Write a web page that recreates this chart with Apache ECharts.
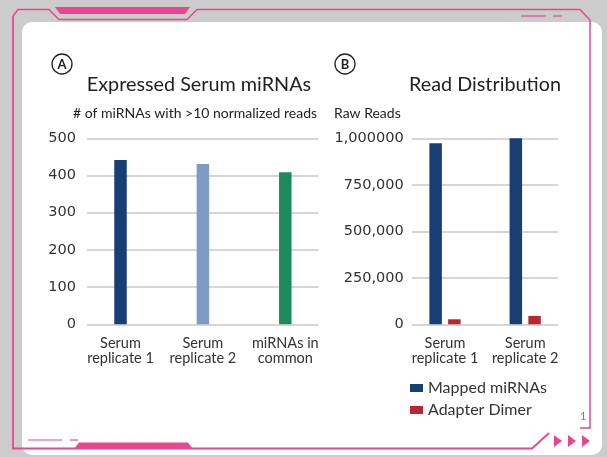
<!DOCTYPE html>
<html><head><meta charset="utf-8">
<script src="https://cdn.jsdelivr.net/npm/echarts@6/dist/echarts.min.js"></script>
<style>html,body{margin:0;padding:0;background:#cbcbcb}#c{width:607px;height:457px}</style>
</head><body><div id="c"></div>
<script>
// ---- data ----
const catsA = ['Serum\nreplicate 1', 'Serum\nreplicate 2', 'miRNAs in\ncommon'];
const valsA = [442, 431, 409];
const colorsA = ['#173f75', '#7f9bc3', '#1d8a5c'];
const catsB = ['Serum\nreplicate 1', 'Serum\nreplicate 2'];
const mapped = [973000, 1007000];
const adapter = [27000, 45000];
const seriesNamesB = ['Mapped miRNAs', 'Adapter Dimer'];
const ticksA = [0, 100, 200, 300, 400, 500];
const ticksB = [0, 250000, 500000, 750000, 1000000];
const tickLabelsB = ['0', '250,000', '500,000', '750,000', '1,000000'];

const FONT = 'Lato';
const NUMFONT = 'DejaVu Sans';
const TXT = '#333333';
const PINK = '#e8478f';
const GRID = '#c8c8c8';
const chart = echarts.init(document.getElementById('c'));

const top0 = 138.3, h0 = 186;
const option = {
  backgroundColor: '#cccccc',
  animation: false,
  textStyle: { fontFamily: FONT },
  grid: [
    { left: 87, top: top0, width: 231.5, height: h0 },
    { left: 79.3, top: top0, width: 247.2, height: h0 },
    { left: 411.7, top: top0, width: 146.3, height: h0 },
    { left: 404.9, top: top0, width: 160.4, height: h0 }
  ],
  xAxis: [
    { gridIndex: 0, type: 'value', show: false },
    { gridIndex: 1, type: 'category', data: catsA, axisLine: { show: false }, axisTick: { show: false },
      axisLabel: { color: TXT, fontSize: 14.5, lineHeight: 15, margin: 12, fontFamily: FONT, interval: 0 } },
    { gridIndex: 2, type: 'value', show: false },
    { gridIndex: 3, type: 'category', data: catsB, axisLine: { show: false }, axisTick: { show: false },
      axisLabel: { color: TXT, fontSize: 14.5, lineHeight: 15, margin: 12, fontFamily: FONT, interval: 0 } }
  ],
  yAxis: [
    { gridIndex: 0, type: 'value', min: ticksA[0], max: ticksA[ticksA.length - 1], interval: ticksA[1] - ticksA[0],
      axisLine: { show: false }, axisTick: { show: false },
      axisLabel: { color: TXT, fontSize: 14.5, margin: 11, fontFamily: NUMFONT },
      splitLine: { lineStyle: { color: GRID, width: 1.5 } } },
    { gridIndex: 1, type: 'value', min: ticksA[0], max: ticksA[ticksA.length - 1], show: false },
    { gridIndex: 2, type: 'value', min: ticksB[0], max: ticksB[ticksB.length - 1], interval: ticksB[1] - ticksB[0],
      axisLine: { show: false }, axisTick: { show: false },
      axisLabel: { color: TXT, fontSize: 14.5, margin: 8, fontFamily: NUMFONT,
        formatter: v => tickLabelsB[ticksB.indexOf(v)] },
      splitLine: { lineStyle: { color: GRID, width: 1.5 } } },
    { gridIndex: 3, type: 'value', min: ticksB[0], max: ticksB[ticksB.length - 1], show: false }
  ],
  legend: {
    data: seriesNamesB, orient: 'vertical', left: 405, top: 375,
    itemWidth: 13, itemHeight: 8, itemGap: 6, icon: 'rect',
    textStyle: { color: TXT, fontSize: 16, fontFamily: FONT, padding: [0, 0, 0, 0] }
  },
  series: [
    { type: 'bar', xAxisIndex: 1, yAxisIndex: 1, barWidth: 12.5,
      data: valsA.map((v, i) => ({ value: v, itemStyle: { color: colorsA[i] } })) },
    { name: seriesNamesB[0], type: 'bar', xAxisIndex: 3, yAxisIndex: 3, barWidth: 12.5, barGap: '50%',
      itemStyle: { color: '#173f75' }, data: mapped },
    { name: seriesNamesB[1], type: 'bar', xAxisIndex: 3, yAxisIndex: 3, barWidth: 12.5, barGap: '50%',
      itemStyle: { color: '#b8282f' }, data: adapter }
  ],
  graphic: [
    { type: 'rect', z: -10, shape: { x: 22, y: 22, width: 580, height: 433, r: 10 }, style: { fill: '#ffffff' } },
    { type: 'polyline', z: -5, shape: { points: [[13, 16], [18, 9.5], [49, 9.5], [59, 19.5], [187, 19.5], [197, 9.5], [580, 9.5], [590, 20], [590, 428], [580, 428]] },
      style: { stroke: PINK, lineWidth: 1.5, fill: null } },
    { type: 'polyline', z: -5, shape: { points: [[13, 16], [13, 448.5], [532, 448.5], [549, 433]] },
      style: { stroke: PINK, lineWidth: 1.8, fill: null } },
    { type: 'polygon', z: -5, shape: { points: [[55, 7], [190, 7], [185, 14], [60, 14]] }, style: { fill: PINK } },
    { type: 'polygon', z: -5, shape: { points: [[79, 442.5], [188, 442.5], [193, 449], [74, 449]] }, style: { fill: PINK } },
    { type: 'line', z: -5, shape: { x1: 521, y1: 16, x2: 546, y2: 16 }, style: { stroke: PINK, lineWidth: 1.2 } },
    { type: 'line', z: -5, shape: { x1: 553, y1: 16, x2: 562, y2: 16 }, style: { stroke: PINK, lineWidth: 1.2 } },
    { type: 'line', z: -5, shape: { x1: 28, y1: 440, x2: 62, y2: 440 }, style: { stroke: PINK, lineWidth: 1.2 } },
    { type: 'line', z: -5, shape: { x1: 70, y1: 440, x2: 78, y2: 440 }, style: { stroke: PINK, lineWidth: 1.2 } },
    { type: 'polygon', z: -5, shape: { points: [[554, 435], [562, 441], [554, 447]] }, style: { fill: PINK } },
    { type: 'polygon', z: -5, shape: { points: [[568, 435], [576, 441], [568, 447]] }, style: { fill: PINK } },
    { type: 'polygon', z: -5, shape: { points: [[582, 435], [590, 441], [582, 447]] }, style: { fill: PINK } },
    { type: 'text', z: 5, style: { text: '1', x: 580, y: 411, fill: PINK, fontSize: 11, fontFamily: FONT } },
    // panel letters
    { type: 'circle', z: 5, shape: { cx: 62, cy: 64, r: 10 }, style: { stroke: '#222', lineWidth: 1.3, fill: null } },
    { type: 'text', z: 5, style: { text: 'A', x: 62, y: 64.5, align: 'center', verticalAlign: 'middle', fill: '#222', fontSize: 13, fontWeight: 'bold', fontFamily: FONT } },
    { type: 'circle', z: 5, shape: { cx: 345, cy: 64, r: 10 }, style: { stroke: '#222', lineWidth: 1.3, fill: null } },
    { type: 'text', z: 5, style: { text: 'B', x: 345, y: 64.5, align: 'center', verticalAlign: 'middle', fill: '#222', fontSize: 13, fontWeight: 'bold', fontFamily: FONT } },
    // titles
    { type: 'text', z: 5, style: { text: 'Expressed Serum miRNAs', x: 199, y: 75, align: 'center', verticalAlign: 'top', fill: '#222', fontSize: 19.8, fontFamily: FONT } },
    { type: 'text', z: 5, style: { text: '# of miRNAs with >10 normalized reads', x: 195, y: 106, align: 'center', verticalAlign: 'top', fill: '#222', fontSize: 14, fontFamily: FONT } },
    { type: 'text', z: 5, style: { text: 'Read Distribution', x: 485, y: 75, align: 'center', verticalAlign: 'top', fill: '#222', fontSize: 19.8, fontFamily: FONT } },
    { type: 'text', z: 5, style: { text: 'Raw Reads', x: 334, y: 106, align: 'left', verticalAlign: 'top', fill: '#222', fontSize: 14, fontFamily: FONT } }
  ]
};
chart.setOption(option);
</script></body></html>
